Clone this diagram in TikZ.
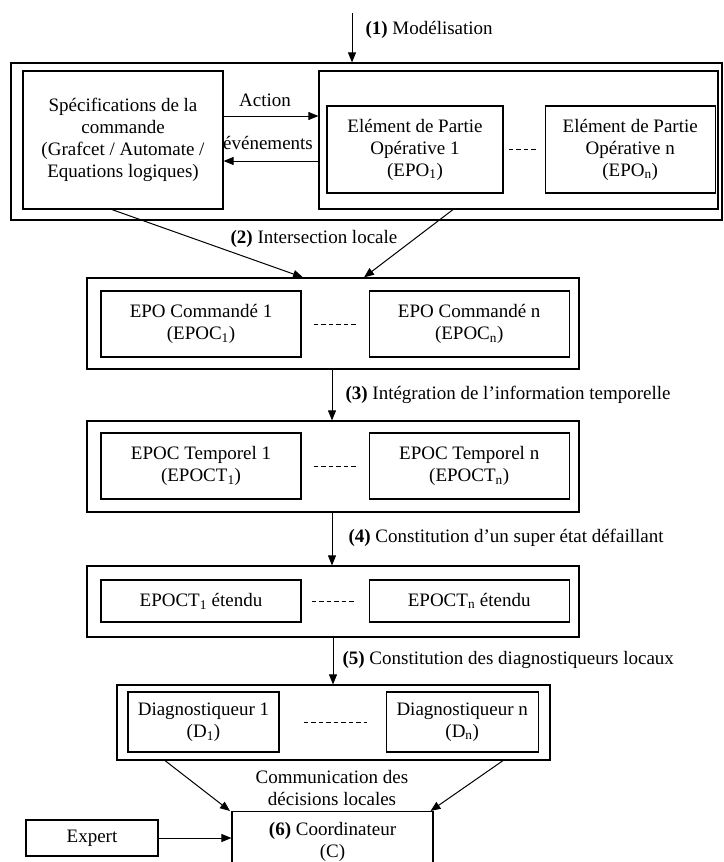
\documentclass[tikz,border=0pt]{standalone}
\usepackage{fontspec}
\setmainfont{Liberation Serif}
\usetikzlibrary{arrows.meta,positioning,calc}

\begin{document}
\begin{tikzpicture}[x=1pt, y=-1pt, font=\fontsize{19}{22}\selectfont,
  group/.style={rectangle, draw, line width=1.2pt, inner sep=0pt},
  block/.style={rectangle, draw, line width=1.2pt, align=center, inner sep=0pt, minimum width=200pt, minimum height=66pt},
  line/.style={draw, line width=1pt, -{Triangle[length=10pt, width=8pt]}},
  gap/.style={draw, line width=1pt, dash pattern=on 4.5pt off 3pt}]

  \useasboundingbox (0,0) rectangle (723,862);
  \clip (0,0) rectangle (723,862);

  % (1) modelling
  \coordinate (start) at (352,13);
  \node [anchor=west] (lab1) at (362,30) {\textbf{(1)} Modélisation};
  \node [group, minimum width=711pt, minimum height=157pt] (grp1) at (366.5,141.5) {};
  \node [block, minimum height=138pt] (spec) at (123,140) {Spécifications de la\\commande\\(Grafcet / Automate /\\Equations logiques)};
  \node [group, minimum width=399pt, minimum height=138pt] (epos) at (518.5,140) {};
  \node [block, minimum width=176pt, minimum height=87pt] (epo1) at (415,149.5) {Elément de Partie\\Opérative 1\\(EPO\textsubscript{1})};
  \node [block, minimum width=170pt, minimum height=87pt, right=41pt of epo1] (epon) {Elément de Partie\\Opérative n\\(EPO\textsubscript{n})};
  \node (act) at (265,100) {Action};
  \node (evt) at (268,143) {événements};

  % (2) local intersection
  \node (lab2) at (314,239) {\textbf{(2)} Intersection locale};
  \node [group, minimum width=492pt, minimum height=91pt] (grp2) at (333,323.5) {};
  \node [block] (epoc1) at (201,324) {EPO Commandé 1\\(EPOC\textsubscript{1})};
  \node [block, right=67pt of epoc1] (epocn) {EPO Commandé n\\(EPOC\textsubscript{n})};

  % (3) time information
  \node [anchor=west] (lab3) at (342,395) {\textbf{(3)} Intégration de l’information temporelle};
  \node [group, minimum width=492pt, minimum height=91pt] (grp3) at (333,466.5) {};
  \node [block] (epoct1) at (201,466) {EPOC Temporel 1\\(EPOCT\textsubscript{1})};
  \node [block, right=67pt of epoct1] (epoctn) {EPOC Temporel n\\(EPOCT\textsubscript{n})};

  % (4) faulty super state
  \node [anchor=west] (lab4) at (345,538) {\textbf{(4)} Constitution d’un super état défaillant};
  \node [group, minimum width=492pt, minimum height=71pt] (grp4) at (333,601.5) {};
  \node [block, minimum height=42pt] (ext1) at (201,601) {EPOCT\textsubscript{1} étendu};
  \node [block, minimum height=42pt, right=67pt of ext1] (extn) {EPOCT\textsubscript{n} étendu};

  % (5) local diagnosers
  \node [anchor=west] (lab5) at (339,660) {\textbf{(5)} Constitution des diagnostiqueurs locaux};
  \node [group, minimum width=433pt, minimum height=75pt] (grp5) at (333.5,722.5) {};
  \node [block, minimum width=151pt, minimum height=60pt] (d1) at (203.5,722) {Diagnostiqueur 1\\(D\textsubscript{1})};
  \node [block, minimum width=152pt, minimum height=60pt, right=106pt of d1] (dn) {Diagnostiqueur n\\(D\textsubscript{n})};

  % (6) coordinator
  \node [align=center] (lab6) at (332,787.5) {Communication des\\décisions locales};
  \node [block, minimum width=201pt, minimum height=60pt, anchor=north] (coord) at (332.5,811) {\textbf{(6)} Coordinateur\\(C)};
  \node [block, minimum width=132pt, minimum height=36pt] (expert) at (92,838) {Expert};

  \path [line] (start) -- (start |- grp1.north);
  \path [line] ([yshift=24pt]spec.east) -- ([yshift=24pt]epos.west);
  \path [line] ([yshift=-21pt]epos.west) -- ([yshift=-21pt]spec.east);
  \path [gap] ([xshift=5pt]epo1.east) -- ([xshift=-6pt]epon.west);
  \path [line] ([xshift=-11pt]spec.south) -- ([xshift=-30pt]grp2.north);
  \path [line] ([xshift=-65.5pt]epos.south) -- ([xshift=31pt]grp2.north);
  \path [gap] ([xshift=12pt]epoc1.east) -- ([xshift=-11pt]epocn.west);
  \path [line] ([xshift=-1pt]grp2.south) -- ([xshift=-1pt]grp3.north);
  \path [gap] ([xshift=12pt]epoct1.east) -- ([xshift=-11pt]epoctn.west);
  \path [line] ([xshift=-1pt]grp3.south) -- ([xshift=-1pt]grp4.north);
  \path [gap] ([xshift=10pt]ext1.east) -- ([xshift=-15pt]extn.west);
  \path [line] (grp4.south) -- (grp4.south |- grp5.north);
  \path [gap] ([xshift=24pt]d1.east) -- ([xshift=-19pt]dn.west);
  \path [line] ([xshift=-168.5pt]grp5.south) -- ([xshift=-102.5pt]coord.north);
  \path [line] ([xshift=169.5pt]grp5.south) -- ([xshift=98pt]coord.north);
  \path [line] (expert) -- (expert -| coord.west);
\end{tikzpicture}
\end{document}
